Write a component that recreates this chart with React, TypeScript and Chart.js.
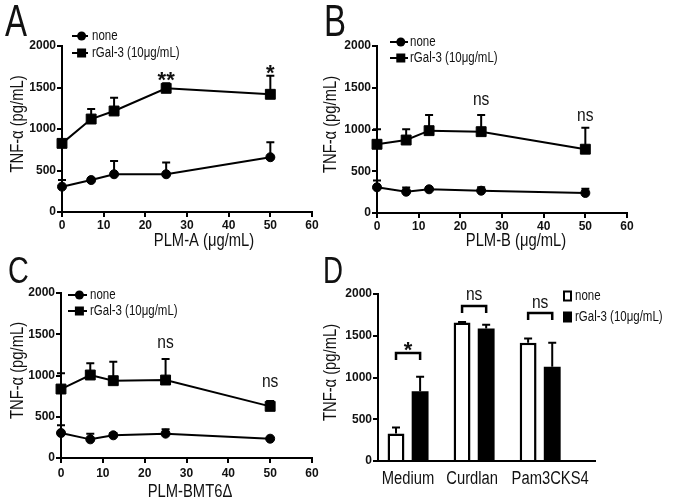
import React, { useEffect, useRef } from 'react';
import { Chart, registerables } from 'chart.js';

Chart.register(...registerables);

// ---------- data ----------
const CONC = [0, 7, 12.5, 25, 50];
const SERIES = ['none', 'rGal-3 (10μg/mL)'];
const Y_TITLE = 'TNF-α (pg/mL)';

const A_NONE = [305, 385, 455, 455, 660];
const A_NONE_ERR = [80, 15, 160, 140, 180];
const A_GAL = [827, 1120, 1217, 1490, 1418];
const A_GAL_ERR = [0, 120, 160, 60, 225];
const A_MARKS = ['**', '*'];
const A_MARK_X = [25, 50];
const A_MARK_Y = [1663, 1747];

const B_NONE = [308, 255, 284, 267, 240];
const B_NONE_ERR = [80, 50, 25, 40, 50];
const B_GAL = [823, 874, 986, 974, 764];
const B_GAL_ERR = [180, 128, 188, 200, 256];
const B_MARKS = ['ns', 'ns'];
const B_MARK_X = [25, 50];
const B_MARK_Y = [1353, 1162];

const C_NONE = [303, 226, 275, 295, 234];
const C_NONE_ERR = [93, 69, 28, 52, 0];
const C_GAL = [836, 1006, 937, 945, 626];
const C_GAL_ERR = [190, 144, 230, 255, 65];
const C_MARKS = ['ns', 'ns'];
const C_MARK_X = [25, 50];
const C_MARK_Y = [1394, 921];

const D_CATS = ['Medium', 'Curdlan', 'Pam3CKS4'];
const D_NONE = [328, 1660, 1416];
const D_NONE_ERR = [72, 5, 52];
const D_GAL = [836, 1588, 1128];
const D_GAL_ERR = [172, 44, 288];
const D_MARKS = ['*', 'ns', 'ns'];
const D_MARK_Y = [1401, 1988, 1892];
const D_BRACKET_Y = [1293, 1856, 1772];

const Y_TICKS_STEP = 500;
const Y_MAX = 2000;

// ---------- styles ----------
const SANS = "'Liberation Sans', Arial, Helvetica, sans-serif";
const SX = 0.82; // horizontal compression to mimic a narrow sans face
const INK = '#111';
const TICK_FONT = { family: SANS, size: 12, weight: 'bold' as const, lineHeight: 1.2 };
const D_LABEL_SHIFT = [0, -2, 10];

function drawText(
  ctx: CanvasRenderingContext2D,
  text: string,
  x: number,
  y: number,
  size: number,
  o: { align?: CanvasTextAlign; baseline?: CanvasTextBaseline; rotate?: number; sx?: number; bold?: boolean } = {}
) {
  ctx.save();
  ctx.translate(x, y);
  if (o.rotate) ctx.rotate(o.rotate);
  ctx.scale(o.sx ?? SX, 1);
  ctx.font = `${o.bold ? 'bold ' : ''}${size}px ${SANS}`;
  ctx.textAlign = o.align ?? 'center';
  ctx.textBaseline = o.baseline ?? 'middle';
  ctx.fillStyle = INK;
  ctx.fillText(text, 0, 0);
  ctx.restore();
}

// ---------- plugins ----------
const errorBarPlugin = {
  id: 'errorBars',
  afterDatasetsDraw(chart: any) {
    const ctx = chart.ctx;
    const yScale = chart.scales.y;
    ctx.save();
    ctx.strokeStyle = '#000';
    ctx.lineWidth = 2;
    chart.data.datasets.forEach((ds: any, di: number) => {
      const errs: number[] = ds.errs || [];
      const meta = chart.getDatasetMeta(di);
      meta.data.forEach((el: any, i: number) => {
        const e = errs[i];
        if (!e) return;
        const v = ds.data[i].y;
        const yTop = yScale.getPixelForValue(v + e);
        ctx.beginPath();
        ctx.moveTo(el.x, el.y);
        ctx.lineTo(el.x, yTop);
        ctx.moveTo(el.x - 4, yTop);
        ctx.lineTo(el.x + 4, yTop);
        ctx.stroke();
      });
    });
    ctx.restore();
  },
};

function drawMark(ctx: CanvasRenderingContext2D, text: string, x: number, yCenter: number) {
  if (text.includes('*')) {
    drawText(ctx, text, x, yCenter + 13, 22, { bold: true, sx: 1, baseline: 'alphabetic' });
  } else {
    drawText(ctx, text, x, yCenter + 5, 19, { baseline: 'alphabetic' });
  }
}

function markPlugin(marks: string[], xs: number[], ys: number[]) {
  return {
    id: 'marks',
    afterDraw(chart: any) {
      const { x, y } = chart.scales;
      marks.forEach((m, i) => drawMark(chart.ctx, m, x.getPixelForValue(xs[i]), y.getPixelForValue(ys[i])));
    },
  };
}

function titlePlugin(xTitle: string | null, xTitleX: number, xTitleY: number) {
  return {
    id: 'titles',
    afterDraw(chart: any) {
      const ctx = chart.ctx;
      const a = chart.chartArea;
      if (xTitle) drawText(ctx, xTitle, xTitleX, xTitleY, 18);
      drawText(ctx, Y_TITLE, 18, (a.top + a.bottom) / 2 - 5, 18, { rotate: -Math.PI / 2 });
    },
  };
}

function lineLegendPlugin(lx: number, ly: number, gap: number, len: number, textX: number) {
  return {
    id: 'lineLegend',
    afterDraw(chart: any) {
      const ctx = chart.ctx;
      ctx.save();
      SERIES.forEach((label, i) => {
        const y = ly + i * gap;
        ctx.strokeStyle = '#000';
        ctx.fillStyle = '#000';
        ctx.lineWidth = 2;
        ctx.beginPath();
        ctx.moveTo(lx, y);
        ctx.lineTo(lx + len, y);
        ctx.stroke();
        const cx = lx + len * 0.6;
        if (i === 0) {
          ctx.beginPath();
          ctx.arc(cx, y, 4.5, 0, Math.PI * 2);
          ctx.fill();
        } else {
          ctx.fillRect(cx - 4.5, y - 4.5, 9, 9);
        }
        drawText(ctx, label, textX, y, 14, { align: 'left' });
      });
      ctx.restore();
    },
  };
}

// ---------- configs ----------
type Box = { left: number; top: number; right: number; bottom: number };

function axisCommon() {
  return {
    grid: { display: true, drawOnChartArea: false, drawTicks: true, color: '#000', lineWidth: 2, tickLength: 5 },
    border: { display: true, color: '#000', width: 2 },
  };
}

function yAxis(box: Box) {
  return {
    min: 0,
    max: Y_MAX,
    ...axisCommon(),
    ticks: { stepSize: Y_TICKS_STEP, color: INK, font: TICK_FONT, padding: 1, callback: (v: any) => String(v) },
    title: { display: false },
    afterFit: (s: any) => {
      s.width = box.left;
    },
  };
}

function lineConfig(p: {
  w: number;
  h: number;
  box: Box;
  padBottom: number;
  xTitle: string;
  xTitleX: number;
  xTitleY: number;
  xTickPad: number;
  none: number[];
  noneErr: number[];
  gal: number[];
  galErr: number[];
  plugins: any[];
}) {
  const xHeight = p.h - p.padBottom - p.box.bottom;
  const common = {
    borderColor: '#000',
    backgroundColor: '#000',
    borderWidth: 2,
    pointBorderWidth: 1,
    tension: 0,
    clip: false as const,
  };
  return {
    type: 'line' as const,
    data: {
      datasets: [
        {
          label: SERIES[0],
          data: CONC.map((x, i) => ({ x, y: p.none[i] })),
          errs: p.noneErr,
          pointStyle: 'circle',
          pointRadius: 4.5,
          ...common,
        },
        {
          label: SERIES[1],
          data: CONC.map((x, i) => ({ x, y: p.gal[i] })),
          errs: p.galErr,
          pointStyle: 'rect',
          pointRadius: 7,
          ...common,
        },
      ],
    },
    options: {
      responsive: false,
      animation: false as const,
      devicePixelRatio: 1,
      layout: { padding: { left: 0, top: p.box.top, right: p.w - p.box.right, bottom: p.padBottom } },
      plugins: { legend: { display: false }, tooltip: { enabled: false } },
      scales: {
        x: {
          type: 'linear' as const,
          min: 0,
          max: 60,
          ...axisCommon(),
          ticks: { stepSize: 10, color: INK, font: TICK_FONT, padding: p.xTickPad, maxRotation: 0 },
          title: { display: false },
          afterFit: (s: any) => {
            s.height = xHeight;
          },
        },
        y: yAxis(p.box),
      },
    },
    plugins: [errorBarPlugin, titlePlugin(p.xTitle, p.xTitleX, p.xTitleY), ...p.plugins],
  };
}

function barConfig() {
  const w = 366;
  const h = 252;
  const box: Box = { left: 65, top: 44, right: 282, bottom: 211 };
  const xHeight = h - box.bottom;
  const barCommon = { borderColor: '#000', categoryPercentage: 0.73, barPercentage: 0.7, clip: false as const };
  const bracketPlugin = {
    id: 'brackets',
    afterDraw(chart: any) {
      const ctx = chart.ctx;
      const yS = chart.scales.y;
      const xS = chart.scales.x;
      const m0 = chart.getDatasetMeta(0);
      const m1 = chart.getDatasetMeta(1);
      ctx.save();
      ctx.strokeStyle = '#000';
      ctx.lineWidth = 2.5;
      D_CATS.forEach((cat, i) => {
        const x1 = m0.data[i].x;
        const x2 = m1.data[i].x;
        const y = yS.getPixelForValue(D_BRACKET_Y[i]);
        ctx.beginPath();
        ctx.moveTo(x1, y + 7);
        ctx.lineTo(x1, y);
        ctx.lineTo(x2, y);
        ctx.lineTo(x2, y + 7);
        ctx.stroke();
        drawMark(ctx, D_MARKS[i], (x1 + x2) / 2, yS.getPixelForValue(D_MARK_Y[i]));
        // category label
        drawText(ctx, cat, xS.getPixelForValue(i + 1) + D_LABEL_SHIFT[i], box.bottom + 18, 18);
      });
      // legend
      const lx = 250;
      const rows = [46, 67];
      SERIES.forEach((label, i) => {
        const y = rows[i];
        if (i === 0) {
          ctx.lineWidth = 2;
          ctx.strokeStyle = '#000';
          ctx.strokeRect(lx + 1, y - 4.5, 7, 9);
        } else {
          ctx.fillStyle = '#000';
          ctx.fillRect(lx, y - 5.5, 9, 11);
        }
        drawText(ctx, label, lx + 12, y, 14, { align: 'left' });
      });
      ctx.restore();
      drawText(ctx, Y_TITLE, 18, (box.top + box.bottom) / 2 - 5, 18, { rotate: -Math.PI / 2 });
    },
  };
  return {
    type: 'bar' as const,
    data: {
      datasets: [
        {
          label: SERIES[0],
          data: D_CATS.map((_, i) => ({ x: i + 1, y: D_NONE[i] })),
          errs: D_NONE_ERR,
          backgroundColor: '#fff',
          borderWidth: 2.5,
          ...barCommon,
        },
        {
          label: SERIES[1],
          data: D_CATS.map((_, i) => ({ x: i + 1, y: D_GAL[i] })),
          errs: D_GAL_ERR,
          backgroundColor: '#000',
          borderWidth: 0,
          ...barCommon,
        },
      ],
    },
    options: {
      responsive: false,
      animation: false as const,
      devicePixelRatio: 1,
      layout: { padding: { left: 0, top: box.top, right: w - box.right, bottom: 0 } },
      plugins: { legend: { display: false }, tooltip: { enabled: false } },
      scales: {
        x: {
          type: 'linear' as const,
          min: 0.545,
          max: 3.83,
          offset: false,
          grid: { display: true, drawOnChartArea: false, drawTicks: false, offset: false },
          border: { display: true, color: '#000', width: 2 },
          afterBuildTicks: (s: any) => {
            s.ticks = D_CATS.map((_, i) => ({ value: i + 1 }));
          },
          ticks: { display: false },
          afterFit: (s: any) => {
            s.height = xHeight;
          },
        },
        y: yAxis(box),
      },
    },
    plugins: [errorBarPlugin, bracketPlugin],
  };
}

// ---------- components ----------
function ChartCanvas({ left, top, w, h, make }: { left: number; top: number; w: number; h: number; make: () => any }) {
  const ref = useRef<HTMLCanvasElement>(null);
  useEffect(() => {
    if (!ref.current) return;
    const chart = new Chart(ref.current, make());
    return () => chart.destroy();
  }, []);
  return (
    <canvas
      ref={ref}
      width={w}
      height={h}
      style={{ position: 'absolute', left, top, width: w, height: h, display: 'block' }}
    />
  );
}

const letterStyle = (left: number, top: number, size: number, sx: number): React.CSSProperties => ({
  position: 'absolute',
  left,
  top,
  fontFamily: SANS,
  fontSize: size,
  lineHeight: 1,
  color: INK,
  transform: `scaleX(${sx})`,
  transformOrigin: 'left top',
});

export default function App() {
  return (
    <div style={{ position: 'absolute', left: 0, top: 0, width: 679, height: 502, background: '#fff', overflow: 'hidden' }}>
      <ChartCanvas
        left={0}
        top={0}
        w={340}
        h={262}
        make={() =>
          lineConfig({
            w: 340,
            h: 262,
            box: { left: 62, top: 46, right: 312, bottom: 212 },
            padBottom: 12,
            xTitle: 'PLM-A (μg/mL)',
            xTitleX: 204,
            xTitleY: 241,
            xTickPad: 1,
            none: A_NONE,
            noneErr: A_NONE_ERR,
            gal: A_GAL,
            galErr: A_GAL_ERR,
            plugins: [markPlugin(A_MARKS, A_MARK_X, A_MARK_Y), lineLegendPlugin(72, 36, 17, 16, 92)],
          })
        }
      />
      <ChartCanvas
        left={313}
        top={0}
        w={366}
        h={262}
        make={() =>
          lineConfig({
            w: 366,
            h: 262,
            box: { left: 64, top: 46, right: 314, bottom: 213 },
            padBottom: 12,
            xTitle: 'PLM-B (μg/mL)',
            xTitleX: 203,
            xTitleY: 241,
            xTickPad: 1,
            none: B_NONE,
            noneErr: B_NONE_ERR,
            gal: B_GAL,
            galErr: B_GAL_ERR,
            plugins: [markPlugin(B_MARKS, B_MARK_X, B_MARK_Y), lineLegendPlugin(77, 42, 16, 18, 97)],
          })
        }
      />
      <ChartCanvas
        left={0}
        top={250}
        w={340}
        h={252}
        make={() =>
          lineConfig({
            w: 340,
            h: 252,
            box: { left: 61, top: 43, right: 312, bottom: 208 },
            padBottom: 0,
            xTitle: 'PLM-BMT6Δ',
            xTitleX: 190,
            xTitleY: 242,
            xTickPad: 3,
            none: C_NONE,
            noneErr: C_NONE_ERR,
            gal: C_GAL,
            galErr: C_GAL_ERR,
            plugins: [markPlugin(C_MARKS, C_MARK_X, C_MARK_Y), lineLegendPlugin(68, 45, 16, 19, 90)],
          })
        }
      />
      <ChartCanvas left={313} top={250} w={366} h={252} make={barConfig} />
      <div style={letterStyle(5, -1, 44, 0.75)}>A</div>
      <div style={letterStyle(324, -1, 44, 0.75)}>B</div>
      <div style={letterStyle(8, 253, 36, 0.8)}>C</div>
      <div style={letterStyle(323, 253, 36, 0.77)}>D</div>
    </div>
  );
}
